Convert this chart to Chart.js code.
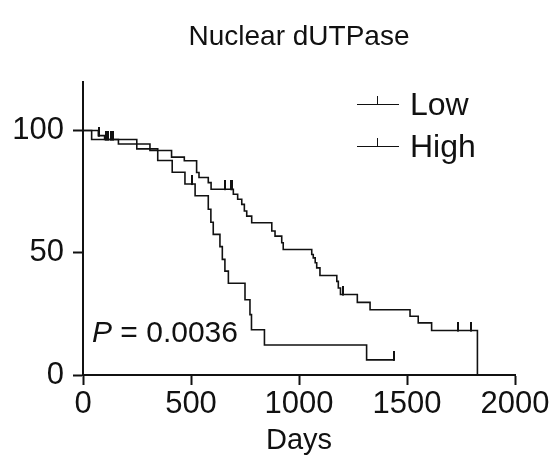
<!DOCTYPE html>
<html>
<head>
<meta charset="utf-8">
<script src="https://cdn.jsdelivr.net/npm/chart.js@4.4.1/dist/chart.umd.min.js"></script>
<style>
  html, body { margin: 0; padding: 0; background: #fff; }
  #wrap { position: relative; width: 551px; height: 460px; }
  #chart { position: absolute; left: 0; top: 0; }
  .note { position: absolute; font-family: "Liberation Sans", Arial, sans-serif; color: #111; line-height: 1; white-space: nowrap; }
  .key { position: absolute; width: 42px; height: 0; border-top: 1.6px solid #111; }
  .key::after { content: ""; position: absolute; left: 20px; top: -9px; height: 8px; border-left: 1.6px solid #111; }
</style>
</head>
<body>
<div id="wrap">
  <canvas id="chart" width="551" height="460"></canvas>
  <div class="key" style="left:357px; top:104px"></div>
  <div class="note" style="left:410px; top:88px; font-size:32px">Low</div>
  <div class="key" style="left:357px; top:146px"></div>
  <div class="note" style="left:410px; top:130px; font-size:32px">High</div>
  <div class="note" style="left:92px; top:317px; font-size:30px"><i>P</i> = 0.0036</div>
</div>
<script>
// Kaplan-Meier steps (day of event, % surviving after it)
const lowDays = [0, 71, 100, 164, 310, 410, 469, 526, 537, 580, 593, 696, 716, 735, 747, 758, 781, 874, 889, 920, 927, 1059, 1066, 1075, 1082, 1097, 1175, 1182, 1192, 1270, 1329, 1514, 1552, 1614, 1826];
const lowSurv = [100, 97.9, 96.3, 94.5, 91.8, 89.1, 87.6, 82.8, 80.8, 78.7, 76.0, 73.9, 71.9, 69.8, 67.1, 65.0, 62.3, 58.9, 56.8, 54.1, 51.3, 49.3, 47.9, 45.9, 43.8, 40.7, 38.3, 35.6, 32.9, 29.7, 26.7, 24.0, 21.3, 18.2, 0];
const lowCensored = [75, 105, 118, 657, 684, 692, 1204, 1735, 1795];

const highDays = [0, 40, 249, 346, 413, 472, 519, 580, 592, 603, 634, 645, 657, 673, 750, 773, 780, 840, 1313, 1440];
const highSurv = [100, 96.3, 92.5, 87.7, 82.9, 78.1, 73.3, 67.8, 62.5, 57.5, 52.5, 47.3, 42.5, 37.5, 30.8, 24.7, 18.5, 12.3, 6.2, 6.2];
const highCensored = [128, 140, 503, 1440];

const xTicks = [0, 500, 1000, 1500, 2000];
const yTicks = [0, 50, 100];

const FONT = '"Liberation Sans", Arial, sans-serif';
const INK = '#111';

// value of a step curve at day t
function survAt(days, surv, t) {
    let s = surv[0];
    for (let i = 0; i < days.length; i++) {
        if (days[i] <= t) s = surv[i];
    }
    return s;
}

function curve(days, surv) {
    return days.map((d, i) => ({ x: d, y: surv[i] }));
}

function marks(censored, days, surv) {
    return censored.map(t => ({ x: t, y: survAt(days, surv, t) }));
}

// small vertical tick used for censored cases
const censorMark = (() => {
    const c = document.createElement('canvas');
    c.width = 2;
    c.height = 18;
    const g = c.getContext('2d');
    g.fillStyle = INK;
    g.fillRect(0, 0, 2, 10);
    return c;
})();

const stepLine = (label, data) => ({
    type: 'line',
    label,
    data,
    stepped: 'before',
    borderColor: INK,
    borderWidth: 1.6,
    pointRadius: 0,
    fill: false
});

const censorSet = (label, data) => ({
    type: 'scatter',
    label,
    data,
    pointStyle: censorMark,
    pointRadius: 5,
    borderColor: INK,
    backgroundColor: INK
});

const axisCommon = {
    grid: { drawOnChartArea: false, drawTicks: true, tickLength: 10, tickWidth: 2, tickColor: INK },
    border: { display: true, color: INK, width: 2 }
};

new Chart(document.getElementById('chart'), {
    data: {
        datasets: [
            stepLine('Low', curve(lowDays, lowSurv)),
            stepLine('High', curve(highDays, highSurv)),
            censorSet('Low censored', marks(lowCensored, lowDays, lowSurv)),
            censorSet('High censored', marks(highCensored, highDays, highSurv))
        ]
    },
    options: {
        responsive: false,
        animation: false,
        layout: { padding: { left: 0, right: 36, top: 0, bottom: 0 } },
        plugins: {
            legend: { display: false },
            tooltip: { enabled: false },
            title: {
                display: true,
                text: 'Nuclear dUTPase',
                fullSize: false,
                color: INK,
                font: { family: FONT, size: 28, weight: 'normal' },
                padding: { top: 20, bottom: 28 }
            }
        },
        scales: {
            x: {
                type: 'linear',
                min: 0,
                max: 2000,
                ...axisCommon,
                afterBuildTicks: s => { s.ticks = xTicks.map(v => ({ value: v })); },
                afterFit: s => { s.height = 85; },
                ticks: { color: INK, font: { family: FONT, size: 31 }, padding: 1, maxRotation: 0, autoSkip: false, callback: v => String(v) },
                title: { display: true, text: 'Days', color: INK, font: { family: FONT, size: 29 }, padding: { top: 0, bottom: 2 } }
            },
            y: {
                type: 'linear',
                min: 0,
                max: 120,
                ...axisCommon,
                afterBuildTicks: s => { s.ticks = yTicks.map(v => ({ value: v })); },
                afterFit: s => { s.width = 83; },
                ticks: { color: INK, font: { family: FONT, size: 31 }, padding: 9, callback: v => String(v) }
            }
        }
    }
});
</script>
</body>
</html>
